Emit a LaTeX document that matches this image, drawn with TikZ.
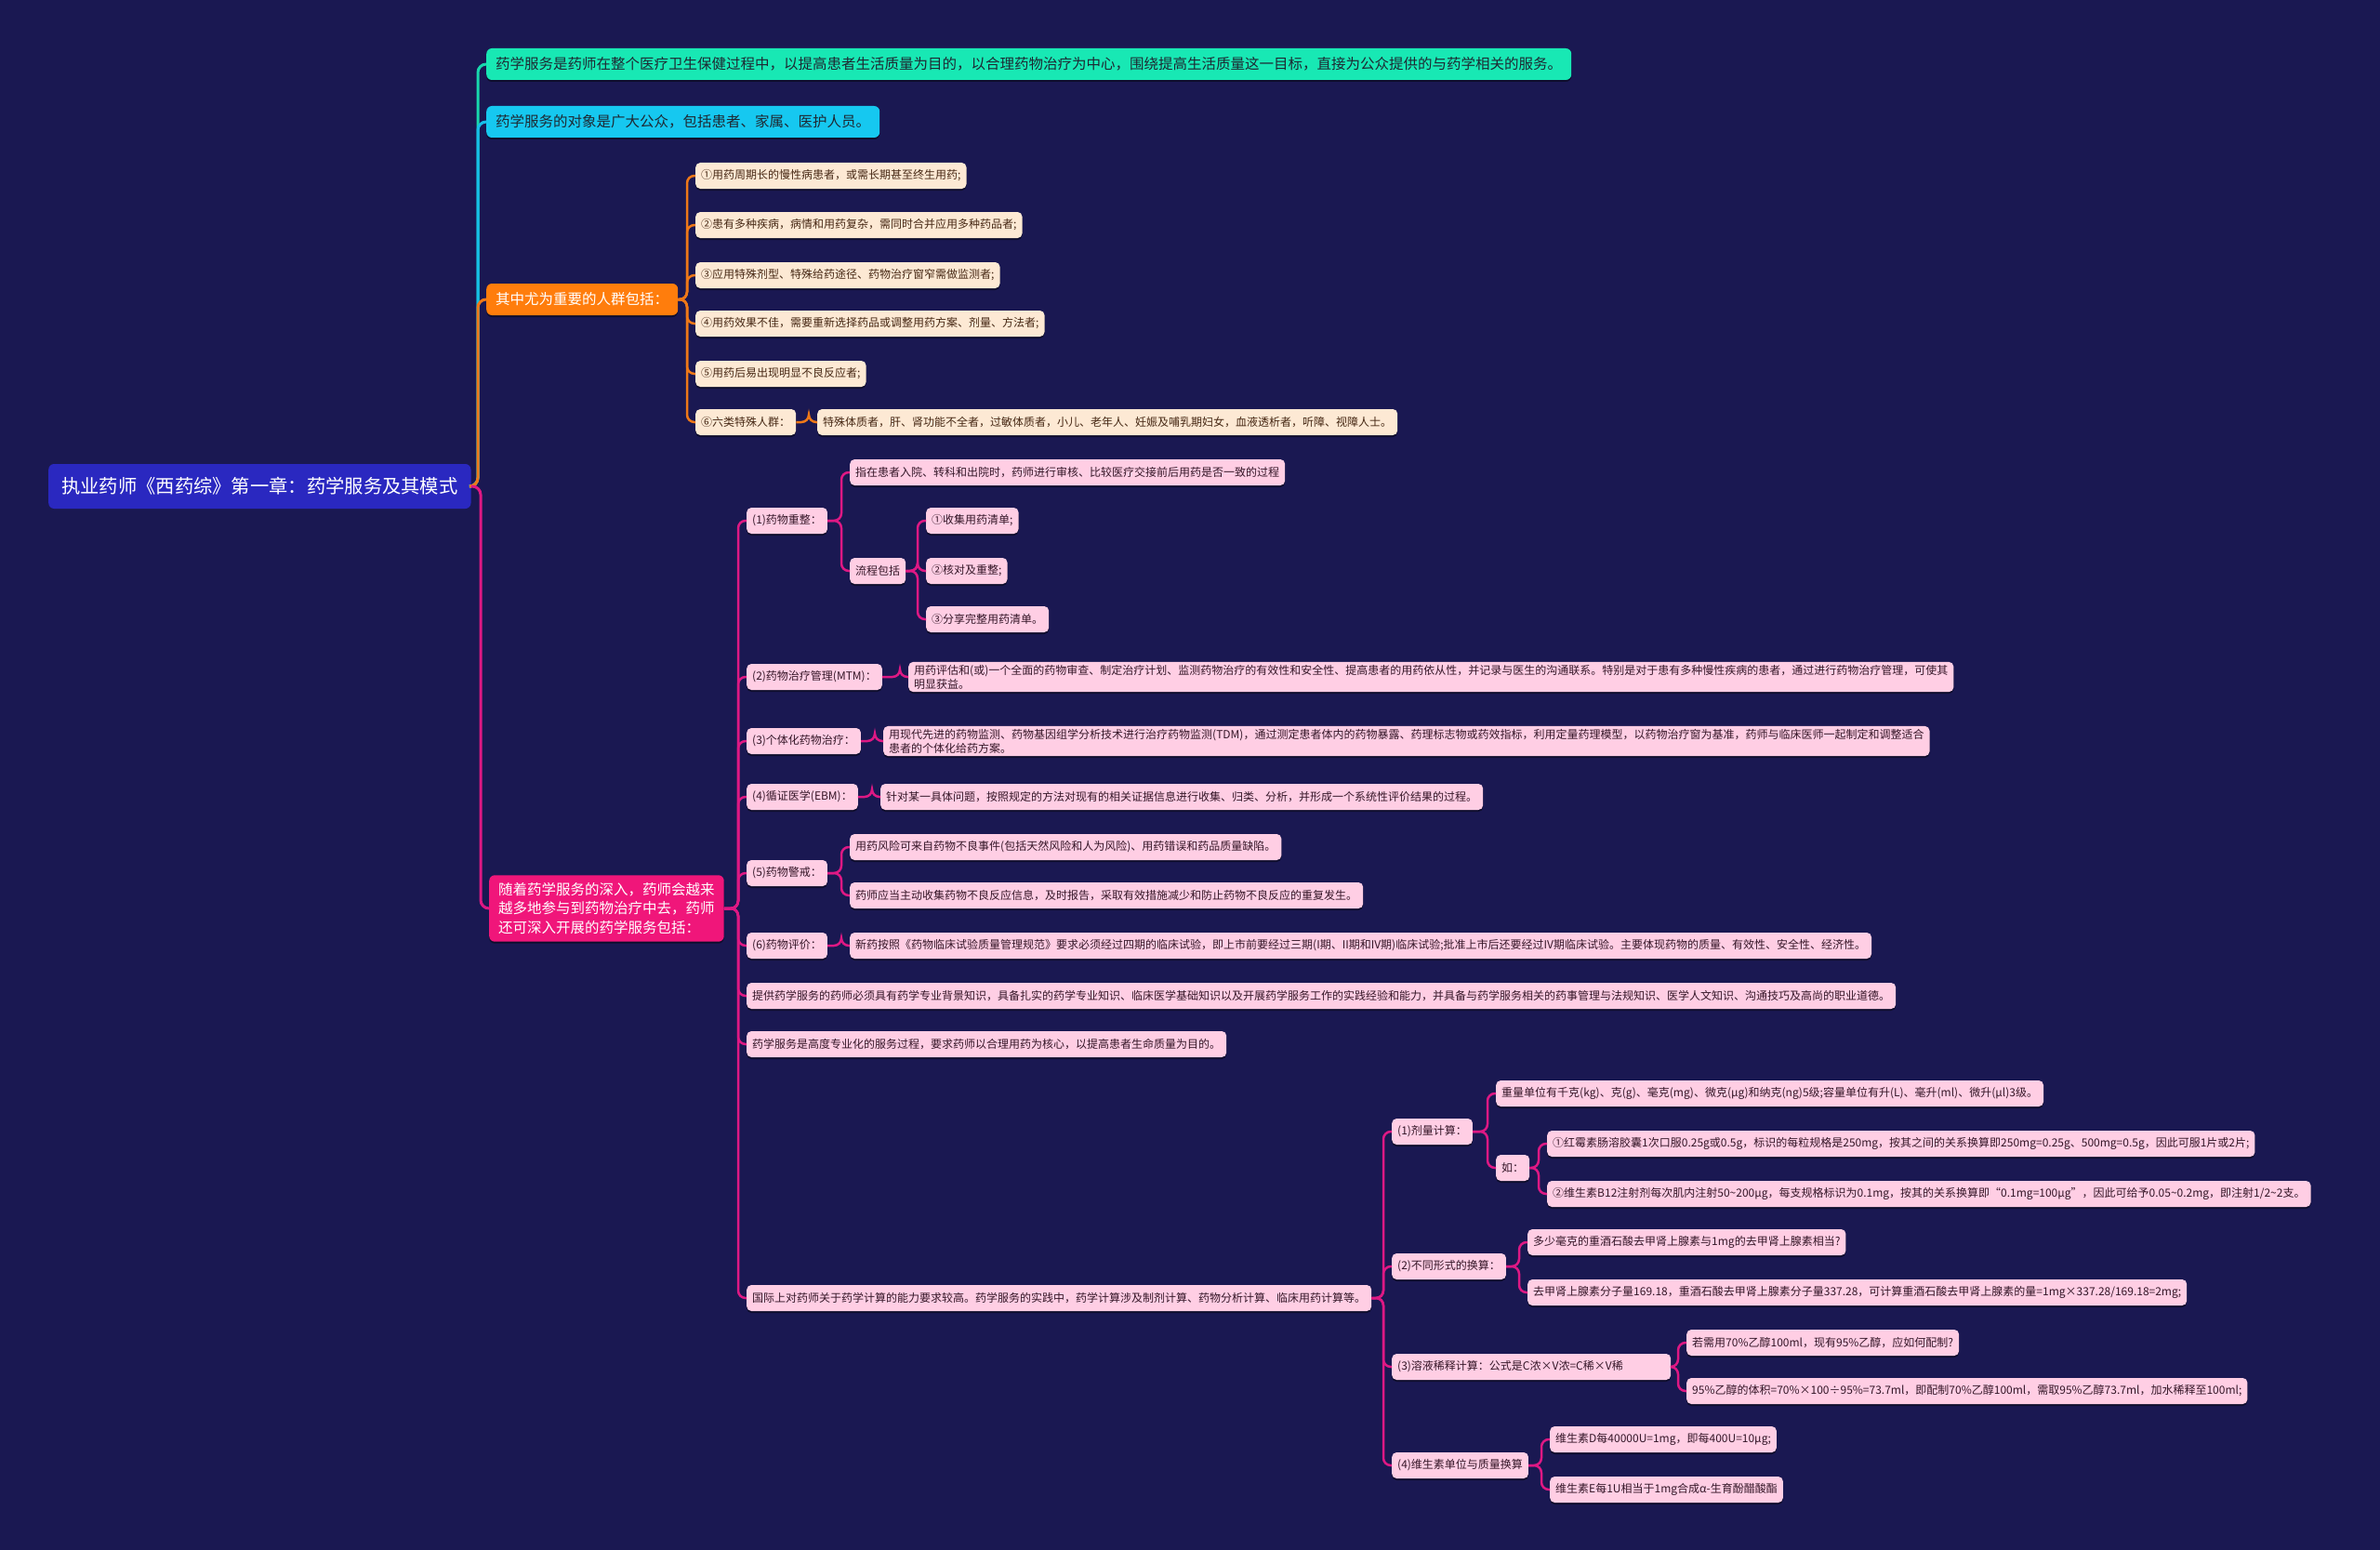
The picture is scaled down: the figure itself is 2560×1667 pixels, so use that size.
\documentclass[tikz,border=0pt]{standalone}
\usepackage{fontspec}
\setmainfont{Noto Sans CJK SC}
\usetikzlibrary{calc,shadows}
\definecolor{bgc}{RGB}{26,24,82}
\definecolor{rootc}{RGB}{42,40,192}
\definecolor{mgreen}{RGB}{24,232,180}
\definecolor{mcyan}{RGB}{22,200,240}
\definecolor{morange}{RGB}{255,125,12}
\definecolor{mmag}{RGB}{240,22,122}
\definecolor{lgreen}{RGB}{24,215,172}
\definecolor{lcyan}{RGB}{22,190,232}
\definecolor{lorange}{RGB}{238,120,24}
\definecolor{lmag}{RGB}{222,24,132}
\definecolor{peach}{RGB}{253,233,212}
\definecolor{pinkl}{RGB}{255,206,228}
\definecolor{darkt}{RGB}{52,22,40}
\definecolor{brownt}{RGB}{70,40,20}
\definecolor{mdark}{RGB}{30,40,50}
\newcommand\linkto[3]{\draw[#1] (#2.east) -- ($(#2.east -| #3.west)+(-9,0)$) |- (#3.west);}
\begin{document}
\begin{tikzpicture}[x=1pt,y=-1pt,
  shad/.style={drop shadow={shadow xshift=0pt,shadow yshift=-2pt,fill=black,opacity=0.45}},
  rootbox/.style={rounded corners=6pt,anchor=west,fill=rootc,text=white,inner xsep=14pt,minimum height=48pt,font=\fontsize{20.3}{24}\selectfont},
  mainbox/.style={rounded corners=6pt,anchor=west,inner xsep=10pt,inner ysep=4pt,minimum height=34pt,font=\fontsize{15.5}{20}\selectfont,shad},
  leaf/.style={rounded corners=5pt,anchor=west,inner xsep=6pt,inner ysep=3pt,minimum height=28pt,font=\fontsize{12}{15}\selectfont,align=left,shad},
  leafo/.style={leaf,fill=peach,text=brownt},
  leafp/.style={leaf,fill=pinkl,text=darkt},
  lnG/.style={draw=lgreen,line width=3pt,rounded corners=9pt},
  lnC/.style={draw=lcyan,line width=3pt,rounded corners=9pt},
  lnO/.style={draw=lorange,line width=3pt,rounded corners=9pt},
  lnM/.style={draw=lmag,line width=3pt,rounded corners=9pt},
  lnOb/.style={draw=lorange,line width=2.5pt,rounded corners=8pt},
  lnMb/.style={draw=lmag,line width=2.5pt,rounded corners=8pt}]
\fill[bgc] (0,0) rectangle (2560,1667);
\useasboundingbox (0,0) rectangle (2560,1667);

% root and main branches
\node[rootbox] (root) at (52,523) {执业药师《西药综》第一章：药学服务及其模式};
\node[mainbox,fill=mgreen,text=mdark] (g) at (523,69) {药学服务是药师在整个医疗卫生保健过程中，以提高患者生活质量为目的，以合理药物治疗为中心，围绕提高生活质量这一目标，直接为公众提供的与药学相关的服务。};
\node[mainbox,fill=mcyan,text=mdark] (c) at (523,131) {药学服务的对象是广大公众，包括患者、家属、医护人员。};
\node[mainbox,fill=morange,text=white] (o) at (523,322) {其中尤为重要的人群包括：};
\node[mainbox,fill=mmag,text=white,align=left,inner ysep=8pt,font=\fontsize{15.5}{20.5}\selectfont] (m) at (526,977) {随着药学服务的深入，药师会越来\\越多地参与到药物治疗中去，药师\\还可深入开展的药学服务包括：};

% orange group
\node[leafo] (o1) at (748,189) {①用药周期长的慢性病患者，或需长期甚至终生用药;};
\node[leafo] (o2) at (748,242) {②患有多种疾病，病情和用药复杂，需同时合并应用多种药品者;};
\node[leafo] (o3) at (748,296) {③应用特殊剂型、特殊给药途径、药物治疗窗窄需做监测者;};
\node[leafo] (o4) at (748,348) {④用药效果不佳，需要重新选择药品或调整用药方案、剂量、方法者;};
\node[leafo] (o5) at (748,402) {⑤用药后易出现明显不良反应者;};
\node[leafo] (o6) at (748,454) {⑥六类特殊人群：};
\node[leafo] (o6a) at (879,454) {特殊体质者，肝、肾功能不全者，过敏体质者，小儿、老年人、妊娠及哺乳期妇女，血液透析者，听障、视障人士。};

% magenta group
\node[leafp] (p1) at (803,560) {(1)药物重整：};
\node[leafp] (p1a) at (914,508) {指在患者入院、转科和出院时，药师进行审核、比较医疗交接前后用药是否一致的过程};
\node[leafp] (p1b) at (914,614) {流程包括};
\node[leafp] (p1b1) at (996,560) {①收集用药清单;};
\node[leafp] (p1b2) at (996,614) {②核对及重整;};
\node[leafp] (p1b3) at (996,666) {③分享完整用药清单。};
\node[leafp] (p2) at (803,728) {(2)药物治疗管理(MTM)：};
\node[leafp] (p2a) at (977,728) {用药评估和(或)一个全面的药物审查、制定治疗计划、监测药物治疗的有效性和安全性、提高患者的用药依从性，并记录与医生的沟通联系。特别是对于患有多种慢性疾病的患者，通过进行药物治疗管理，可使其\\明显获益。};
\node[leafp] (p3) at (803,797) {(3)个体化药物治疗：};
\node[leafp] (p3a) at (950,797) {用现代先进的药物监测、药物基因组学分析技术进行治疗药物监测(TDM)，通过测定患者体内的药物暴露、药理标志物或药效指标，利用定量药理模型，以药物治疗窗为基准，药师与临床医师一起制定和调整适合\\患者的个体化给药方案。};
\node[leafp] (p4) at (803,857) {(4)循证医学(EBM)：};
\node[leafp] (p4a) at (947,857) {针对某一具体问题，按照规定的方法对现有的相关证据信息进行收集、归类、分析，并形成一个系统性评价结果的过程。};
\node[leafp] (p5) at (803,939) {(5)药物警戒：};
\node[leafp] (p5a) at (914,911) {用药风险可来自药物不良事件(包括天然风险和人为风险)、用药错误和药品质量缺陷。};
\node[leafp] (p5b) at (914,963) {药师应当主动收集药物不良反应信息，及时报告，采取有效措施减少和防止药物不良反应的重复发生。};
\node[leafp] (p6) at (803,1017) {(6)药物评价：};
\node[leafp] (p6a) at (914,1017) {新药按照《药物临床试验质量管理规范》要求必须经过四期的临床试验，即上市前要经过三期(I期、II期和IV期)临床试验;批准上市后还要经过IV期临床试验。主要体现药物的质量、有效性、安全性、经济性。};
\node[leafp] (p7) at (803,1071) {提供药学服务的药师必须具有药学专业背景知识，具备扎实的药学专业知识、临床医学基础知识以及开展药学服务工作的实践经验和能力，并具备与药学服务相关的药事管理与法规知识、医学人文知识、沟通技巧及高尚的职业道德。};
\node[leafp] (p8) at (803,1123) {药学服务是高度专业化的服务过程，要求药师以合理用药为核心，以提高患者生命质量为目的。};
\node[leafp] (p9) at (803,1396) {国际上对药师关于药学计算的能力要求较高。药学服务的实践中，药学计算涉及制剂计算、药物分析计算、临床用药计算等。};
\node[leafp] (q1) at (1497,1217) {(1)剂量计算：};
\node[leafp] (q1a) at (1609,1176) {重量单位有千克(kg)、克(g)、毫克(mg)、微克(μg)和纳克(ng)5级;容量单位有升(L)、毫升(ml)、微升(μl)3级。};
\node[leafp] (q1b) at (1609,1256) {如：};
\node[leafp] (q1b1) at (1664,1230) {①红霉素肠溶胶囊1次口服0.25g或0.5g，标识的每粒规格是250mg，按其之间的关系换算即250mg=0.25g、500mg=0.5g，因此可服1片或2片;};
\node[leafp] (q1b2) at (1664,1284) {②维生素B12注射剂每次肌内注射50\textasciitilde200μg，每支规格标识为0.1mg，按其的关系换算即“0.1mg=100μg”，因此可给予0.05\textasciitilde0.2mg，即注射1/2\textasciitilde2支。};
\node[leafp] (q2) at (1497,1362) {(2)不同形式的换算：};
\node[leafp] (q2a) at (1643,1336) {多少毫克的重酒石酸去甲肾上腺素与1mg的去甲肾上腺素相当?};
\node[leafp] (q2b) at (1643,1390) {去甲肾上腺素分子量169.18，重酒石酸去甲肾上腺素分子量337.28，可计算重酒石酸去甲肾上腺素的量=1mg×337.28/169.18=2mg;};
\node[leafp,text width=288pt] (q3) at (1497,1470) {(3)溶液稀释计算：公式是C浓×V浓=C稀×V稀};
\node[leafp] (q3a) at (1814,1444) {若需用70\%乙醇100ml，现有95\%乙醇，应如何配制?};
\node[leafp] (q3b) at (1814,1496) {95\%乙醇的体积=70\%×100÷95\%=73.7ml，即配制70\%乙醇100ml，需取95\%乙醇73.7ml，加水稀释至100ml;};
\node[leafp] (q4) at (1497,1576) {(4)维生素单位与质量换算};
\node[leafp] (q4a) at (1667,1548) {维生素D每40000U=1mg，即每400U=10μg;};
\node[leafp] (q4b) at (1667,1602) {维生素E每1U相当于1mg合成α-生育酚醋酸酯};

% connectors
\linkto{lnG}{root}{g}
\linkto{lnC}{root}{c}
\linkto{lnO}{root}{o}
\linkto{lnM}{root}{m}
\foreach \k in {o1,o2,o3,o4,o5,o6} {\linkto{lnOb}{o}{\k}}
\linkto{lnOb}{o6}{o6a}
\foreach \k in {p1,p2,p3,p4,p5,p6,p7,p8,p9} {\linkto{lnMb}{m}{\k}}
\linkto{lnMb}{p1}{p1a}
\linkto{lnMb}{p1}{p1b}
\foreach \k in {p1b1,p1b2,p1b3} {\linkto{lnMb}{p1b}{\k}}
\linkto{lnMb}{p2}{p2a}
\linkto{lnMb}{p3}{p3a}
\linkto{lnMb}{p4}{p4a}
\linkto{lnMb}{p5}{p5a}
\linkto{lnMb}{p5}{p5b}
\linkto{lnMb}{p6}{p6a}
\foreach \k in {q1,q2,q3,q4} {\linkto{lnMb}{p9}{\k}}
\linkto{lnMb}{q1}{q1a}
\linkto{lnMb}{q1}{q1b}
\linkto{lnMb}{q1b}{q1b1}
\linkto{lnMb}{q1b}{q1b2}
\linkto{lnMb}{q2}{q2a}
\linkto{lnMb}{q2}{q2b}
\linkto{lnMb}{q3}{q3a}
\linkto{lnMb}{q3}{q3b}
\linkto{lnMb}{q4}{q4a}
\linkto{lnMb}{q4}{q4b}
\end{tikzpicture}
\end{document}
